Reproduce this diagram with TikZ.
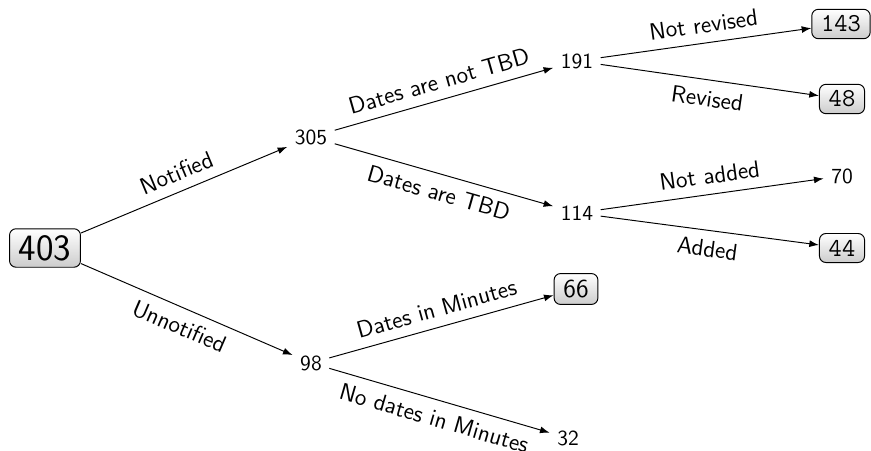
\documentclass[tikz,border=0pt]{standalone}
\usetikzlibrary{arrows.meta}
\begin{document}
\begin{tikzpicture}[x=0.465pt, y=-0.465pt, font=\sffamily,
  box/.style={draw, line width=0.45pt, rounded corners=3pt, inner xsep=4.3pt, inner ysep=3pt,
              top color=white, bottom color=gray!40},
  ttbox/.style={box, font=\ttfamily\large},
  num/.style={inner sep=3.33pt},
  link/.style={-{Latex[length=4.5pt,width=3.2pt]}, line width=0.45pt},
  lbl/.style={sloped, midway, inner sep=4.5pt, font=\sffamily\fontsize{11}{13}\selectfont}]
\useasboundingbox (0,0) rectangle (871,450);

% nodes of the tree
\node[box, font=\sffamily\LARGE] (root) at (45,248) {403};
\node[num] (n305) at (311,137) {305};
\node[num] (n98)  at (311,363) {98};
\node[num] (n191) at (577,61)  {191};
\node[num] (n114) at (577,213) {114};
\node[ttbox] (n143) at (841,24)  {143};
\node[ttbox] (n48)  at (842,99)  {48};
\node[num]   (n70)  at (842,176) {70};
\node[ttbox] (n44)  at (842,248) {44};
\node[box, font=\sffamily\large] (n66) at (576,289) {66};
\node[num] (n32) at (568,438) {32};

% branches with their labels
\draw[link] (root) -- node[lbl, above] {Notified} (n305);
\draw[link] (root) -- node[lbl, below] {Unnotified} (n98);
\draw[link] (n305) -- node[lbl, above] {Dates are not TBD} (n191);
\draw[link] (n305) -- node[lbl, below] {Dates are TBD} (n114);
\draw[link] (n191) -- node[lbl, above] {Not revised} (n143);
\draw[link] (n191) -- node[lbl, below] {Revised} (n48);
\draw[link] (n114) -- node[lbl, above] {Not added} (n70);
\draw[link] (n114) -- node[lbl, below] {Added} (n44);
\draw[link] (n98) -- node[lbl, above] {Dates in Minutes} (n66);
\draw[link] (n98) -- node[lbl, below] {No dates in Minutes} (n32);
\end{tikzpicture}
\end{document}
